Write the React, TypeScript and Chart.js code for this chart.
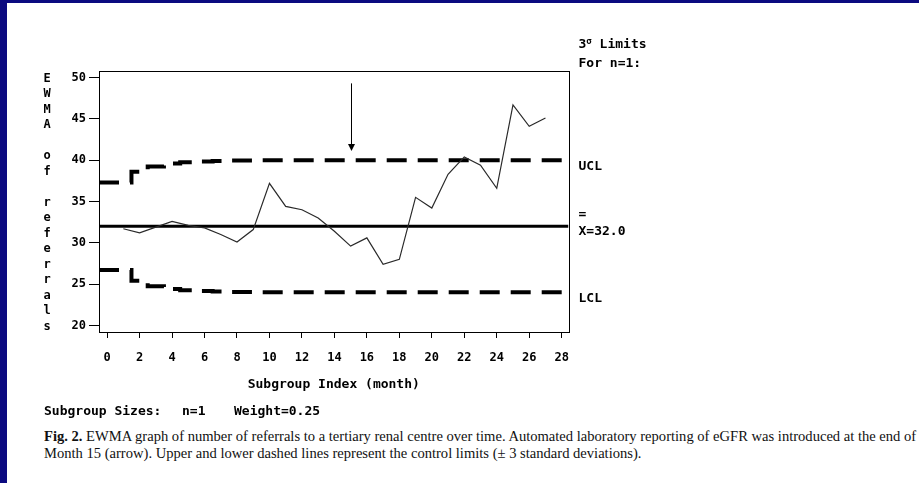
import React, { useEffect, useLayoutEffect, useRef } from 'react';
import { Chart, registerables } from 'chart.js';

Chart.register(...registerables);

// Monthly EWMA of referral counts (subgroup index 1..27)
const MONTHS = [1, 2, 3, 4, 5, 6, 7, 8, 9, 10, 11, 12, 13, 14, 15, 16, 17, 18, 19, 20, 21, 22, 23, 24, 25, 26, 27];
const EWMA = [31.7, 31.2, 31.9, 32.6, 32.1, 31.8, 31.0, 30.1, 31.6, 37.2, 34.4, 34.0, 33.0, 31.4, 29.6, 30.6, 27.4, 28.0, 35.5, 34.2, 38.3, 40.4, 39.4, 36.6, 46.7, 44.1, 45.1];
// Control limits per subgroup (they widen until they settle at 40 / 24)
const UCL = [37.3, 38.6, 39.25, 39.6, 39.75, 39.85, 39.9, 39.95, 39.97, 40, 40, 40, 40, 40, 40, 40, 40, 40, 40, 40, 40, 40, 40, 40, 40, 40, 40];
const LCL = [26.7, 25.4, 24.75, 24.4, 24.25, 24.15, 24.1, 24.05, 24.03, 24, 24, 24, 24, 24, 24, 24, 24, 24, 24, 24, 24, 24, 24, 24, 24, 24, 24];
const CENTER = 32.0;

const X_TICKS = [0, 2, 4, 6, 8, 10, 12, 14, 16, 18, 20, 22, 24, 26, 28];
const Y_TICKS = [20, 25, 30, 35, 40, 45, 50];
const X_RANGE = [-0.5, 28.42];
const Y_RANGE = [19.2, 50.8];

// Month after which automated eGFR reporting started
const INTERVENTION_MONTH = 15;
const ARROW_SPAN = [49.3, 41.1];

const Y_TITLE = 'EWMA of referrals';
const X_TITLE = 'Subgroup Index (month)';
const LIMIT_HEADING = ['3', 'σ', ' Limits'];
const LIMIT_SUBHEADING = 'For n=1:';
const SIZES_NOTE = ['Subgroup Sizes:', 'n=1', 'Weight=0.25'];
const CAPTION_BOLD = 'Fig. 2.';
const CAPTION_LINE1 = ' EWMA graph of number of referrals to a tertiary renal centre over time. Automated laboratory reporting of eGFR was introduced at the end of';
const CAPTION_LINE2 = 'Month 15 (arrow). Upper and lower dashed lines represent the control limits (\u00b1 3 standard deviations).';

const W = 919;
const H = 483;
const CANVAS_H = 420;
const NAVY = '#0b0a80';
const SAS_FONT = '"DejaVu Sans Mono", monospace';
const SERIF = '"Liberation Serif", "Times New Roman", serif';

const PLOT_LEFT = 99;
const PLOT_RIGHT = 568.5;
const PLOT_TOP = 71;
const PLOT_BOTTOM = 332;

const ewmaAnnotations = {
  id: 'ewmaAnnotations',
  afterDraw(chart: any) {
    const { ctx, chartArea: a, scales } = chart;
    const x = scales.x;
    const y = scales.y;
    ctx.save();
    ctx.strokeStyle = '#000';
    ctx.fillStyle = '#000';
    ctx.lineWidth = 1;

    // plot frame
    const l = Math.round(a.left) + 0.5;
    const t = Math.round(a.top) + 0.5;
    const r = Math.round(a.right) + 0.5;
    const b = Math.round(a.bottom) + 0.5;
    ctx.strokeRect(l, t, r - l, b - t);

    // intervention arrow
    const ax = Math.round(x.getPixelForValue(INTERVENTION_MONTH)) + 0.5;
    const ay0 = y.getPixelForValue(ARROW_SPAN[0]);
    const ay1 = y.getPixelForValue(ARROW_SPAN[1]);
    ctx.beginPath();
    ctx.moveTo(ax, ay0);
    ctx.lineTo(ax, ay1 - 5);
    ctx.stroke();
    ctx.beginPath();
    ctx.moveTo(ax - 3.5, ay1 - 7);
    ctx.lineTo(ax + 3.5, ay1 - 7);
    ctx.lineTo(ax, ay1);
    ctx.closePath();
    ctx.fill();

    // vertical stacked axis title
    ctx.font = `bold 12px ${SAS_FONT}`;
    ctx.textAlign = 'center';
    ctx.textBaseline = 'middle';
    const chars = Y_TITLE.split('');
    const top = y.getPixelForValue(Y_TICKS[Y_TICKS.length - 1]) + 1;
    const bottom = y.getPixelForValue(Y_TICKS[0]) + 1;
    const step = (bottom - top) / (chars.length - 1);
    chars.forEach((c: string, i: number) => {
      if (c !== ' ') ctx.fillText(c, a.left - 52, top + i * step);
    });

    // limit labels on the right
    const lx = a.right + 10;
    ctx.textAlign = 'left';
    ctx.font = `bold 13px ${SAS_FONT}`;
    ctx.fillText('UCL', lx, y.getPixelForValue(UCL[UCL.length - 1]) + 6);
    ctx.fillText('LCL', lx, y.getPixelForValue(LCL[LCL.length - 1]) + 6);
    ctx.fillText('=', lx, y.getPixelForValue(CENTER) - 12);
    ctx.fillText(`X=${CENTER.toFixed(1)}`, lx, y.getPixelForValue(CENTER) + 5);

    // heading of the limits block
    const hy = a.top - 26;
    ctx.fillText(LIMIT_HEADING[0], lx, hy);
    let hx = lx + ctx.measureText(LIMIT_HEADING[0]).width;
    ctx.font = `bold 9px ${SAS_FONT}`;
    ctx.fillText(LIMIT_HEADING[1], hx, hy - 3);
    hx += ctx.measureText(LIMIT_HEADING[1]).width;
    ctx.font = `bold 13px ${SAS_FONT}`;
    ctx.fillText(LIMIT_HEADING[2], hx, hy);
    ctx.fillText(LIMIT_SUBHEADING, lx, a.top - 7);

    ctx.restore();
  },
};

function EwmaChart() {
  const ref = useRef<HTMLCanvasElement | null>(null);

  useEffect(() => {
    if (!ref.current) return;
    const limitPoints = (vals: number[]) => [
      { x: X_RANGE[0], y: vals[0] },
      ...vals.map((v, i) => ({ x: MONTHS[i], y: v })),
      { x: X_RANGE[1], y: vals[vals.length - 1] },
    ];
    const tickFont = { family: SAS_FONT, weight: 'bold' as const, size: 12 };

    const chart = new Chart(ref.current, {
      type: 'line',
      data: {
        datasets: [
          {
            label: 'EWMA',
            data: EWMA.map((v, i) => ({ x: MONTHS[i], y: v })),
            borderColor: '#2a2a2a',
            borderWidth: 1.2,
            pointRadius: 0,
            tension: 0,
          },
          {
            label: 'UCL',
            data: limitPoints(UCL),
            stepped: 'middle',
            borderColor: '#000',
            borderWidth: 4,
            borderDash: [20, 11],
            borderCapStyle: 'butt',
            pointRadius: 0,
          },
          {
            label: 'LCL',
            data: limitPoints(LCL),
            stepped: 'middle',
            borderColor: '#000',
            borderWidth: 4,
            borderDash: [20, 11],
            borderCapStyle: 'butt',
            pointRadius: 0,
          },
          {
            label: 'Center',
            data: [
              { x: X_RANGE[0], y: CENTER },
              { x: X_RANGE[1], y: CENTER },
            ],
            borderColor: '#000',
            borderWidth: 3,
            pointRadius: 0,
          },
        ],
      },
      options: {
        animation: false,
        responsive: false,
        maintainAspectRatio: false,
        layout: { padding: { top: PLOT_TOP, right: W - PLOT_RIGHT, left: 0, bottom: 0 } },
        plugins: { legend: { display: false }, tooltip: { enabled: false } },
        scales: {
          x: {
            type: 'linear',
            min: X_RANGE[0],
            max: X_RANGE[1],
            afterBuildTicks: (s: any) => {
              s.ticks = X_TICKS.map((v) => ({ value: v }));
            },
            afterFit: (s: any) => {
              s.height = CANVAS_H - PLOT_BOTTOM;
            },
            grid: { drawOnChartArea: false, drawTicks: true, tickLength: 6, color: '#000' },
            border: { display: true, color: '#000', width: 1 },
            ticks: { color: '#000', font: tickFont, padding: 13, maxRotation: 0, autoSkip: false },
            title: {
              display: true,
              text: X_TITLE,
              color: '#000',
              font: { family: SAS_FONT, weight: 'bold', size: 13 },
              padding: { top: 0, bottom: 28 },
            },
          },
          y: {
            type: 'linear',
            min: Y_RANGE[0],
            max: Y_RANGE[1],
            afterBuildTicks: (s: any) => {
              s.ticks = Y_TICKS.map((v) => ({ value: v }));
            },
            afterFit: (s: any) => {
              s.width = PLOT_LEFT;
            },
            grid: { drawOnChartArea: false, drawTicks: true, tickLength: 10, color: '#000' },
            border: { display: true, color: '#000', width: 1 },
            ticks: { color: '#000', font: tickFont, padding: 3 },
          },
        },
      },
      plugins: [ewmaAnnotations],
    });
    return () => chart.destroy();
  }, []);

  return (
    <canvas
      ref={ref}
      width={W}
      height={CANVAS_H}
      style={{ position: 'absolute', left: 0, top: 0, width: W, height: CANVAS_H, display: 'block' }}
    />
  );
}

function Caption() {
  const l1 = useRef<HTMLDivElement | null>(null);
  const l2 = useRef<HTMLDivElement | null>(null);

  // the caption is set in a narrow serif; squeeze it so the first line spans the page
  useLayoutEffect(() => {
    if (!l1.current || !l2.current) return;
    const target = 872;
    const k = target / l1.current.scrollWidth;
    [l1.current, l2.current].forEach((el) => {
      el.style.transform = `scaleX(${k})`;
    });
  }, []);

  const line: React.CSSProperties = {
    position: 'absolute',
    left: 44,
    whiteSpace: 'nowrap',
    fontFamily: SERIF,
    fontSize: 14,
    lineHeight: '16px',
    color: '#111',
    transformOrigin: '0 0',
    display: 'inline-block',
  };
  return (
    <>
      <div ref={l1} style={{ ...line, top: 429 }}>
        <b>{CAPTION_BOLD}</b>
        {CAPTION_LINE1}
      </div>
      <div ref={l2} style={{ ...line, top: 446 }}>
        {CAPTION_LINE2}
      </div>
    </>
  );
}

export default function App() {
  const note: React.CSSProperties = {
    position: 'absolute',
    top: 404,
    fontFamily: SAS_FONT,
    fontWeight: 'bold',
    fontSize: 13,
    lineHeight: '14px',
    color: '#000',
    whiteSpace: 'nowrap',
  };
  return (
    <div
      style={{
        position: 'fixed',
        left: 0,
        top: 0,
        width: W,
        height: H,
        background: '#fff',
        overflow: 'hidden',
      }}
    >
      <EwmaChart />
      <div style={{ ...note, left: 44 }}>{SIZES_NOTE[0]}</div>
      <div style={{ ...note, left: 182 }}>{SIZES_NOTE[1]}</div>
      <div style={{ ...note, left: 234 }}>{SIZES_NOTE[2]}</div>
      <Caption />
      <div style={{ position: 'absolute', left: 0, top: 0, width: W, height: 3, background: NAVY }} />
      <div style={{ position: 'absolute', left: 0, top: 0, width: 7, height: H, background: NAVY }} />
    </div>
  );
}
